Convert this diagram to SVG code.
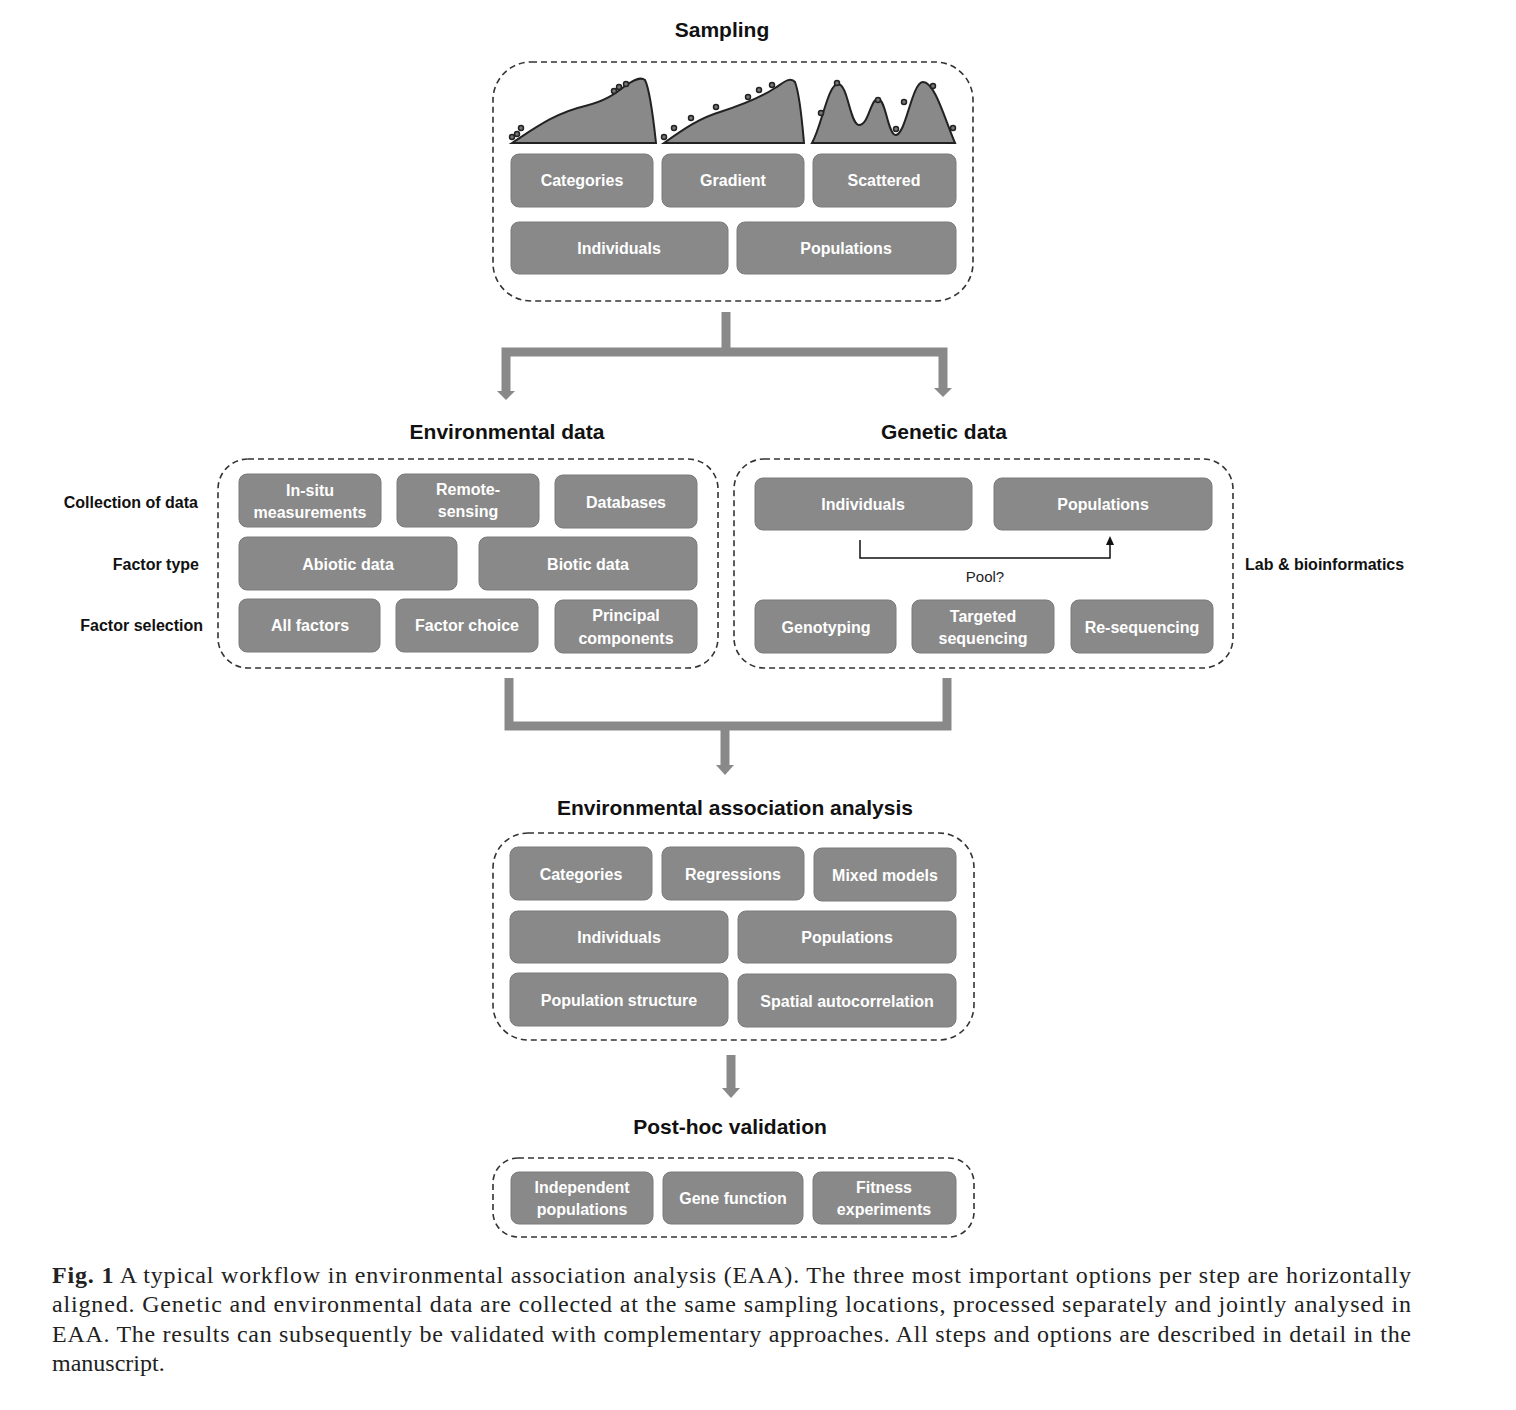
<svg xmlns="http://www.w3.org/2000/svg" width="1516" height="1410" viewBox="0 0 1516 1410">
<style>
.bg{fill:#ffffff}
.frame{fill:none;stroke:#333;stroke-width:1.6;stroke-dasharray:6 4}
.box{fill:#898989;stroke:#7a7a7a;stroke-width:1}
.bt{font-family:"Liberation Sans",Arial,sans-serif;font-weight:bold;font-size:16px;fill:#ffffff;text-anchor:middle}
.title{font-family:"Liberation Sans",Arial,sans-serif;font-weight:bold;font-size:21px;fill:#111;text-anchor:middle}
.side{font-family:"Liberation Sans",Arial,sans-serif;font-weight:bold;font-size:16px;fill:#111}
.pool{font-family:"Liberation Sans",Arial,sans-serif;font-size:15px;fill:#222;text-anchor:middle}
.cap{font-family:"Liberation Serif","Times New Roman",serif;font-size:24px;fill:#222}
.conn{fill:none;stroke:#898989;stroke-width:9}
.head{fill:#898989}
.curve{fill:#898989;stroke:#222;stroke-width:2}
.dot{fill:#777;stroke:#222;stroke-width:1.5}
</style>
<rect class="bg" x="0" y="0" width="1516" height="1410"/>

<!-- Sampling -->
<g id="sampling">
<text class="title" x="722" y="37">Sampling</text>
<rect class="frame" x="493" y="62" width="480" height="239" rx="38"/>
<path class="curve" d="M512,143 C535,128 555,113 585,106 C605,101 615,94 625,86 C632,81 640,76 645,80 C650,90 653,115 656,143 Z"/>
<path class="curve" d="M664,143 C685,128 700,118 720,112 C745,104 760,98 775,88 C783,83 790,76 795,82 C800,95 802,120 804,143 Z"/>
<path class="curve" d="M812,143 C822,125 828,84 838,84 C848,84 850,125 859,125 C869,125 870,99 878,99 C886,99 888,136 896,135 C906,134 912,82 923,82 C935,82 945,120 955,143 Z"/>
<g>
<circle class="dot" cx="512" cy="137" r="2.5"/><circle class="dot" cx="517" cy="134" r="2.5"/><circle class="dot" cx="521" cy="128" r="2.5"/>
<circle class="dot" cx="614" cy="91" r="2.5"/><circle class="dot" cx="619" cy="87" r="2.5"/><circle class="dot" cx="626" cy="84" r="2.5"/>
<circle class="dot" cx="664" cy="137" r="2.5"/><circle class="dot" cx="674" cy="128" r="2.5"/><circle class="dot" cx="691" cy="118" r="2.5"/><circle class="dot" cx="716" cy="107" r="2.5"/><circle class="dot" cx="748" cy="97" r="2.5"/><circle class="dot" cx="759" cy="90" r="2.5"/><circle class="dot" cx="772" cy="85" r="2.5"/>
<circle class="dot" cx="821" cy="113" r="2.5"/><circle class="dot" cx="837" cy="83" r="2.5"/><circle class="dot" cx="878" cy="100" r="2.5"/><circle class="dot" cx="896" cy="129" r="2.5"/><circle class="dot" cx="904" cy="102" r="2.5"/><circle class="dot" cx="933" cy="86" r="2.5"/><circle class="dot" cx="953" cy="128" r="2.5"/>
</g>
</g>
<g id="s-categories"><rect class="box" x="511" y="154" width="142" height="53" rx="8"/><text class="bt" x="582" y="186">Categories</text></g>
<g id="s-gradient"><rect class="box" x="662" y="154" width="142" height="53" rx="8"/><text class="bt" x="733" y="186">Gradient</text></g>
<g id="s-scattered"><rect class="box" x="813" y="154" width="143" height="53" rx="8"/><text class="bt" x="884" y="186">Scattered</text></g>
<g id="s-individuals"><rect class="box" x="511" y="222" width="217" height="52" rx="8"/><text class="bt" x="619" y="254">Individuals</text></g>
<g id="s-populations"><rect class="box" x="737" y="222" width="219" height="52" rx="8"/><text class="bt" x="846" y="254">Populations</text></g>

<!-- Environmental data -->
<g id="environmental">
<text class="title" x="507" y="439">Environmental data</text>
<rect class="frame" x="218" y="459" width="500" height="209" rx="30"/>
<text class="side" x="198" y="508" text-anchor="end">Collection of data</text>
<text class="side" x="199" y="570" text-anchor="end">Factor type</text>
<text class="side" x="203" y="631" text-anchor="end">Factor selection</text>
</g>
<g id="e-insitu"><rect class="box" x="239" y="474" width="142" height="53" rx="8"/><text class="bt" x="310" y="496">In-situ</text><text class="bt" x="310" y="518">measurements</text></g>
<g id="e-remote"><rect class="box" x="397" y="474" width="142" height="53" rx="8"/><text class="bt" x="468" y="495">Remote-</text><text class="bt" x="468" y="517">sensing</text></g>
<g id="e-databases"><rect class="box" x="555" y="475" width="142" height="53" rx="8"/><text class="bt" x="626" y="508">Databases</text></g>
<g id="e-abiotic"><rect class="box" x="239" y="537" width="218" height="53" rx="8"/><text class="bt" x="348" y="570">Abiotic data</text></g>
<g id="e-biotic"><rect class="box" x="479" y="537" width="218" height="53" rx="8"/><text class="bt" x="588" y="570">Biotic data</text></g>
<g id="e-allfactors"><rect class="box" x="239" y="599" width="141" height="53" rx="8"/><text class="bt" x="310" y="631">All factors</text></g>
<g id="e-factorchoice"><rect class="box" x="396" y="599" width="142" height="53" rx="8"/><text class="bt" x="467" y="631">Factor choice</text></g>
<g id="e-principal"><rect class="box" x="555" y="600" width="142" height="53" rx="8"/><text class="bt" x="626" y="621">Principal</text><text class="bt" x="626" y="644">components</text></g>

<!-- Genetic data -->
<g id="genetic">
<text class="title" x="944" y="439">Genetic data</text>
<rect class="frame" x="734" y="459" width="499" height="209" rx="30"/>
<text class="side" x="1245" y="570">Lab &amp; bioinformatics</text>
<text class="pool" x="985" y="582">Pool?</text>
</g>
<g id="g-individuals"><rect class="box" x="755" y="478" width="217" height="52" rx="8"/><text class="bt" x="863" y="510">Individuals</text></g>
<g id="g-populations"><rect class="box" x="994" y="478" width="218" height="52" rx="8"/><text class="bt" x="1103" y="510">Populations</text></g>
<g id="g-genotyping"><rect class="box" x="755" y="600" width="141" height="53" rx="8"/><text class="bt" x="826" y="633">Genotyping</text></g>
<g id="g-targeted"><rect class="box" x="912" y="600" width="142" height="53" rx="8"/><text class="bt" x="983" y="622">Targeted</text><text class="bt" x="983" y="644">sequencing</text></g>
<g id="g-resequencing"><rect class="box" x="1071" y="600" width="142" height="53" rx="8"/><text class="bt" x="1142" y="633">Re-sequencing</text></g>

<!-- EAA -->
<g id="eaa">
<text class="title" x="735" y="815">Environmental association analysis</text>
<rect class="frame" x="493" y="833" width="481" height="207" rx="35"/>
</g>
<g id="a-categories"><rect class="box" x="510" y="847" width="142" height="53" rx="8"/><text class="bt" x="581" y="880">Categories</text></g>
<g id="a-regressions"><rect class="box" x="662" y="847" width="142" height="53" rx="8"/><text class="bt" x="733" y="880">Regressions</text></g>
<g id="a-mixed"><rect class="box" x="814" y="848" width="142" height="53" rx="8"/><text class="bt" x="885" y="881">Mixed models</text></g>
<g id="a-individuals"><rect class="box" x="510" y="911" width="218" height="52" rx="8"/><text class="bt" x="619" y="943">Individuals</text></g>
<g id="a-populations"><rect class="box" x="738" y="911" width="218" height="52" rx="8"/><text class="bt" x="847" y="943">Populations</text></g>
<g id="a-popstructure"><rect class="box" x="510" y="973" width="218" height="53" rx="8"/><text class="bt" x="619" y="1006">Population structure</text></g>
<g id="a-spatial"><rect class="box" x="738" y="974" width="218" height="53" rx="8"/><text class="bt" x="847" y="1007">Spatial autocorrelation</text></g>

<!-- Post-hoc -->
<g id="posthoc">
<text class="title" x="730" y="1134">Post-hoc validation</text>
<rect class="frame" x="493" y="1158" width="481" height="79" rx="25"/>
</g>
<g id="p-independent"><rect class="box" x="511" y="1172" width="142" height="52" rx="8"/><text class="bt" x="582" y="1193">Independent</text><text class="bt" x="582" y="1215">populations</text></g>
<g id="p-gene"><rect class="box" x="663" y="1172" width="140" height="52" rx="8"/><text class="bt" x="733" y="1204">Gene function</text></g>
<g id="p-fitness"><rect class="box" x="813" y="1172" width="143" height="52" rx="8"/><text class="bt" x="884" y="1193">Fitness</text><text class="bt" x="884" y="1215">experiments</text></g>

<!-- Connectors -->
<g id="connectors">
<path class="conn" d="M726,312 V352"/>
<path class="conn" d="M506,392 V352 H943 V389"/>
<polygon class="head" points="497,391 515,391 506,400"/>
<polygon class="head" points="934,388 952,388 943,397"/>
<path class="conn" d="M509,678 V726 H947 V678"/>
<path class="conn" d="M725,726 V766"/>
<polygon class="head" points="716,765 734,765 725,775"/>
<path class="conn" d="M731,1055 V1089"/>
<polygon class="head" points="722,1088 740,1088 731,1098"/>
<path d="M860,540 V558 H1110 V543" fill="none" stroke="#111" stroke-width="1.5"/>
<polygon points="1106,545 1114,545 1110,536" fill="#111"/>
</g>

<!-- Caption -->
<g id="caption">
<text class="cap" x="52" y="1283" textLength="1359"><tspan font-weight="bold">Fig. 1</tspan> A typical workflow in environmental association analysis (EAA). The three most important options per step are horizontally</text>
<text class="cap" x="52" y="1312" textLength="1359">aligned. Genetic and environmental data are collected at the same sampling locations, processed separately and jointly analysed in</text>
<text class="cap" x="52" y="1342" textLength="1359">EAA. The results can subsequently be validated with complementary approaches. All steps and options are described in detail in the</text>
<text class="cap" x="52" y="1371">manuscript.</text>
</g>
</svg>
